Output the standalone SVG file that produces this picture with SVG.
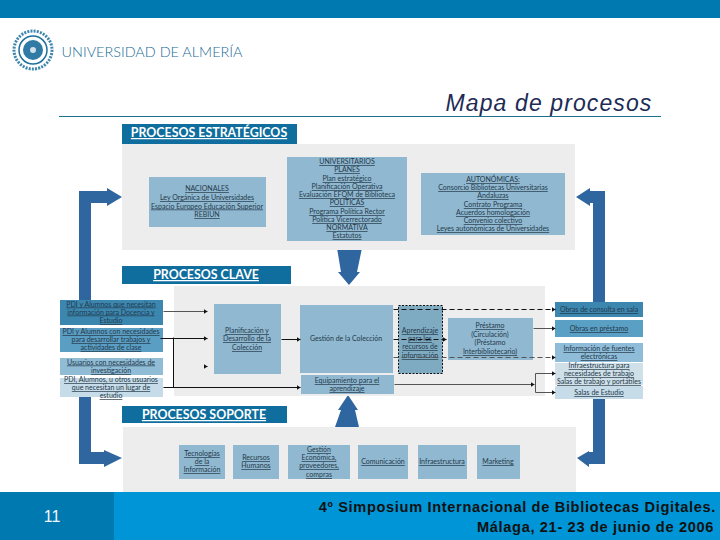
<svg xmlns="http://www.w3.org/2000/svg" width="720" height="540" viewBox="0 0 720 540">
<style>
text{font-family:"Lato","Open Sans",sans-serif;fill:#24384a;text-anchor:middle}
.u{font-size:7px;text-decoration:underline}
.s{font-size:7px;text-decoration:underline}
.h{font-size:12.4px;font-weight:700;fill:#fff;text-decoration:underline}
.panel{fill:#ededee}
.hd{fill:#0f6e9e}
.bx{fill:#90b8d0}
.big{fill:#30669f}
.foot{font-family:"Liberation Sans",Arial,sans-serif;font-size:14.6px;font-weight:700;fill:#111;text-anchor:end;letter-spacing:.66px}
.c{fill:none;stroke:#111;stroke-width:1}
.g{fill:none;stroke:#555;stroke-width:1}
.d{stroke-dasharray:5 3}
</style>
<defs>
<marker id="a" markerWidth="6" markerHeight="6" refX="4" refY="2.5" orient="auto" markerUnits="userSpaceOnUse"><path d="M0 0L4 2.5L0 5z" fill="#111"/></marker>
</defs>
<rect id="topbar" x="0" y="0" width="720" height="18" fill="#0079b0"/>
<g id="logo">
<circle cx="33" cy="50" r="19" fill="#fff" stroke="#3f86ad" stroke-width="3" stroke-dasharray="2 1.2"/>
<circle cx="33" cy="50" r="14" fill="#fff" stroke="#1f6f9c" stroke-width="1.5"/>
<circle cx="33" cy="50" r="10" fill="#2f7ba6"/>
<circle cx="33" cy="50" r="3" fill="#cfe0ea"/>
<text x="152" y="57" style="font-size:14.4px;font-weight:300;fill:#1c6d96">UNIVERSIDAD DE ALMERÍA</text>
</g>
<text x="549" y="111" style="font-family:'Liberation Sans',Arial,sans-serif;font-size:23px;font-style:italic;fill:#1d2b55;letter-spacing:1.1px">Mapa de procesos</text>
<rect x="59" y="116" width="602" height="1" fill="#1f6f8f"/>

<g id="big-arrows">
<path class="big" d="M79 300V191H107V188L122 197L107 206V203H91V300z"/>
<path class="big" d="M79 397V464H104V467L122 458L104 450V452H91V397z"/>
<path class="big" d="M605 302V191H590V188L576 197L590 206V203H593V302z"/>
<path class="big" d="M605 399V464H589V467L577 458L589 451V452H593V399z"/>
<path class="big" d="M337 248H362L357 272H360L349 285L338 272H341z"/>
<path class="big" d="M335 427L341 410H338L348 395L358 410H355L359 427z"/>
</g>

<g id="estrategicos">
<rect class="panel" x="122" y="144" width="453" height="106"/>
<rect class="hd" x="122" y="124" width="175" height="20"/>
<text class="h" x="209" y="137">PROCESOS ESTRATÉGICOS</text>
</g>
<g id="nacionales">
<rect class="bx" x="149" y="177" width="117" height="50"/>
<text class="u" x="207" y="191">NACIONALES</text>
<text class="u" x="207" y="200">Ley Orgánica de Universidades</text>
<text class="u" x="207" y="208.5">Espacio Europeo Educación Superior</text>
<text class="u" x="207" y="217">REBIUN</text>
</g>
<g id="universitarios">
<rect class="bx" x="287" y="157" width="120" height="84"/>
<text class="u" x="347" y="164">UNIVERSITARIOS</text>
<text class="u" x="347" y="172">PLANES</text>
<text class="u" x="347" y="181">Plan estratégico</text>
<text class="u" x="347" y="189">Planificación Operativa</text>
<text class="u" x="347" y="197">Evaluación EFQM de Biblioteca</text>
<text class="u" x="347" y="205">POLÍTICAS</text>
<text class="u" x="347" y="214">Programa Política Rector</text>
<text class="u" x="347" y="222">Política Vicerrectorado</text>
<text class="u" x="347" y="230">NORMATIVA</text>
<text class="u" x="347" y="238">Estatutos</text>
</g>
<g id="autonomicas">
<rect class="bx" x="421" y="173" width="144" height="62"/>
<text class="u" x="493" y="182">AUTONÓMICAS:</text>
<text class="u" x="493" y="190">Consorcio Bibliotecas Universitarias</text>
<text class="u" x="493" y="198">Andaluzas</text>
<text class="u" x="493" y="207">Contrato Programa</text>
<text class="u" x="493" y="215">Acuerdos homologación</text>
<text class="u" x="493" y="223">Convenio colectivo</text>
<text class="u" x="493" y="231">Leyes autonómicas de Universidades</text>
</g>

<g id="clave">
<rect class="panel" x="174" y="286" width="371" height="110"/>
<rect class="hd" x="122" y="266" width="169" height="18"/>
<text class="h" x="206" y="279">PROCESOS CLAVE</text>
</g>
<g id="in1"><rect x="60" y="300" width="103" height="25" fill="#3b87b0"/>
<text class="u" x="111" y="306.5">PDI y Alumnos que necesitan</text><text class="u" x="111" y="314.5">información para Docencia y</text><text class="u" x="111" y="323">Estudio</text></g>
<g id="in2"><rect x="60" y="328" width="103" height="24" fill="#5a9ec4"/>
<text class="u" x="111" y="334">PDI y Alumnos con necesidades</text><text class="u" x="111" y="342">para desarrollar trabajos y</text><text class="u" x="111" y="350">actividades de clase</text></g>
<g id="in3"><rect x="60" y="358" width="103" height="17" fill="#90bcd6"/>
<text class="u" x="111" y="364.5">Usuarios con necesidades de</text><text class="u" x="111" y="373">investigación</text></g>
<g id="in4"><rect x="60" y="378" width="103" height="19" fill="#c6dce8"/>
<text class="u" x="111" y="382">PDI, Alumnos, u otros usuarios</text><text class="u" x="111" y="390">que necesitan un lugar de</text><text class="u" x="111" y="398">estudio</text></g>

<g id="planificacion"><rect class="bx" x="214" y="304" width="67" height="70"/>
<text class="u" x="247" y="333">Planificación y</text><text class="u" x="247" y="341">Desarrollo de la</text><text class="u" x="247" y="350">Colección</text></g>
<g id="gestion"><rect class="bx" x="300" y="305" width="93" height="68"/>
<text class="u" x="346" y="341" style="text-decoration:none">Gestión de la Colección</text></g>
<g id="equipamiento"><rect class="bx" x="301" y="375" width="93" height="19"/>
<text class="u" x="347" y="383">Equipamiento para el</text><text class="u" x="347" y="391">aprendizaje</text></g>
<g id="aprendizaje"><rect x="398.500" y="305.500" width="44" height="68" fill="#7fabc2" stroke="#111" stroke-dasharray="2 1.500"/>
<text class="u" x="420" y="333">Aprendizaje</text><text class="u" x="420" y="341">para los</text><text class="u" x="420" y="349">recursos de</text><text class="u" x="420" y="358">información</text></g>
<g id="prestamo"><rect class="bx" x="448" y="318" width="85" height="42"/>
<text class="u" x="490" y="328">Préstamo</text><text class="u" x="490" y="337" style="text-decoration:none">(Circulación)</text><text class="u" x="490" y="345" style="text-decoration:none">(Préstamo</text><text class="u" x="490" y="354">Interbibliotecario)</text></g>

<g id="out1"><rect x="555" y="302" width="88" height="15" fill="#3b87b0"/><text class="u" x="599" y="312">Obras de consulta en sala</text></g>
<g id="out2"><rect x="555" y="320" width="88" height="17" fill="#5a9fc4"/><text class="u" x="599" y="331">Obras en préstamo</text></g>
<g id="out3"><rect x="555" y="343" width="88" height="19" fill="#8fbcd8"/><text class="u" x="599" y="351">Información de fuentes</text><text class="u" x="599" y="359">electrónicas</text></g>
<g id="out4"><rect x="555" y="363" width="88" height="22" fill="#cfe0e8"/><text class="u" x="599" y="368">Infraestructura para</text><text class="u" x="599" y="376">necesidades de trabajo</text><text class="u" x="599" y="384">Salas de trabajo y portátiles</text></g>
<g id="out5"><rect x="555" y="386" width="88" height="13" fill="#c6dce8"/><text class="u" x="599" y="395">Salas de Estudio</text></g>

<g id="connectors" transform="translate(0.500 0.500)">
<path class="g" d="M163 311H207" marker-end="url(#a)"/>
<path class="c" d="M160 338H207" marker-end="url(#a)"/>
<path class="c" d="M205 366H207" marker-end="url(#a)"/>
<path class="c" d="M173 337V387"/>
<path class="c" d="M163 387H300" marker-end="url(#a)"/>
<path class="c" d="M281 339H300" marker-end="url(#a)"/>
<path class="c d" d="M393 339H446" marker-end="url(#a)"/>
<path class="c d" d="M393 309H555" marker-end="url(#a)"/>
<path class="g d" d="M393 357H555" marker-end="url(#a)"/>
<path class="g" d="M533 328H555" marker-end="url(#a)"/>
<path class="g" d="M394 384H534" marker-end="url(#a)"/>
<path class="g" d="M535 373V392H555" marker-end="url(#a)"/>
<path class="g" d="M535 373H555" marker-end="url(#a)"/>
</g>

<g id="soporte">
<rect class="panel" x="123" y="427" width="453" height="65"/>
<rect class="hd" x="122" y="406" width="165" height="17"/>
<text class="h" x="204" y="419">PROCESOS SOPORTE</text>
</g>
<g id="s1"><rect class="bx" x="179" y="445" width="46" height="34"/><text class="s" x="202" y="456">Tecnologías</text><text class="s" x="202" y="464">de la</text><text class="s" x="202" y="472">Información</text></g>
<g id="s2"><rect class="bx" x="233" y="445" width="46" height="34"/><text class="s" x="256" y="460">Recursos</text><text class="s" x="256" y="468">Humanos</text></g>
<g id="s3"><rect class="bx" x="288" y="445" width="62" height="34"/><text class="s" x="319" y="452">Gestión</text><text class="s" x="319" y="460">Económica,</text><text class="s" x="319" y="468">proveedores,</text><text class="s" x="319" y="477">compras</text></g>
<g id="s4"><rect class="bx" x="358" y="445" width="50" height="34"/><text class="s" x="383" y="464">Comunicación</text></g>
<g id="s5"><rect class="bx" x="418" y="445" width="49" height="34"/><text class="s" x="442" y="464">Infraestructura</text></g>
<g id="s6"><rect class="bx" x="477" y="445" width="43" height="34"/><text class="s" x="498" y="464">Marketing</text></g>

<g id="footer">
<rect x="0" y="492" width="114" height="48" fill="#0079b0"/>
<rect x="114" y="492" width="606" height="48" fill="#0095d6"/>
<text x="52" y="522" style="font-family:'Liberation Sans',Arial,sans-serif;font-size:16px;fill:#f2f7fa">11</text>
<text class="foot" x="716" y="512">4º Simposium Internacional de Bibliotecas Digitales.</text>
<text class="foot" x="714" y="532">Málaga, 21- 23 de junio de 2006</text>
</g>
</svg>
